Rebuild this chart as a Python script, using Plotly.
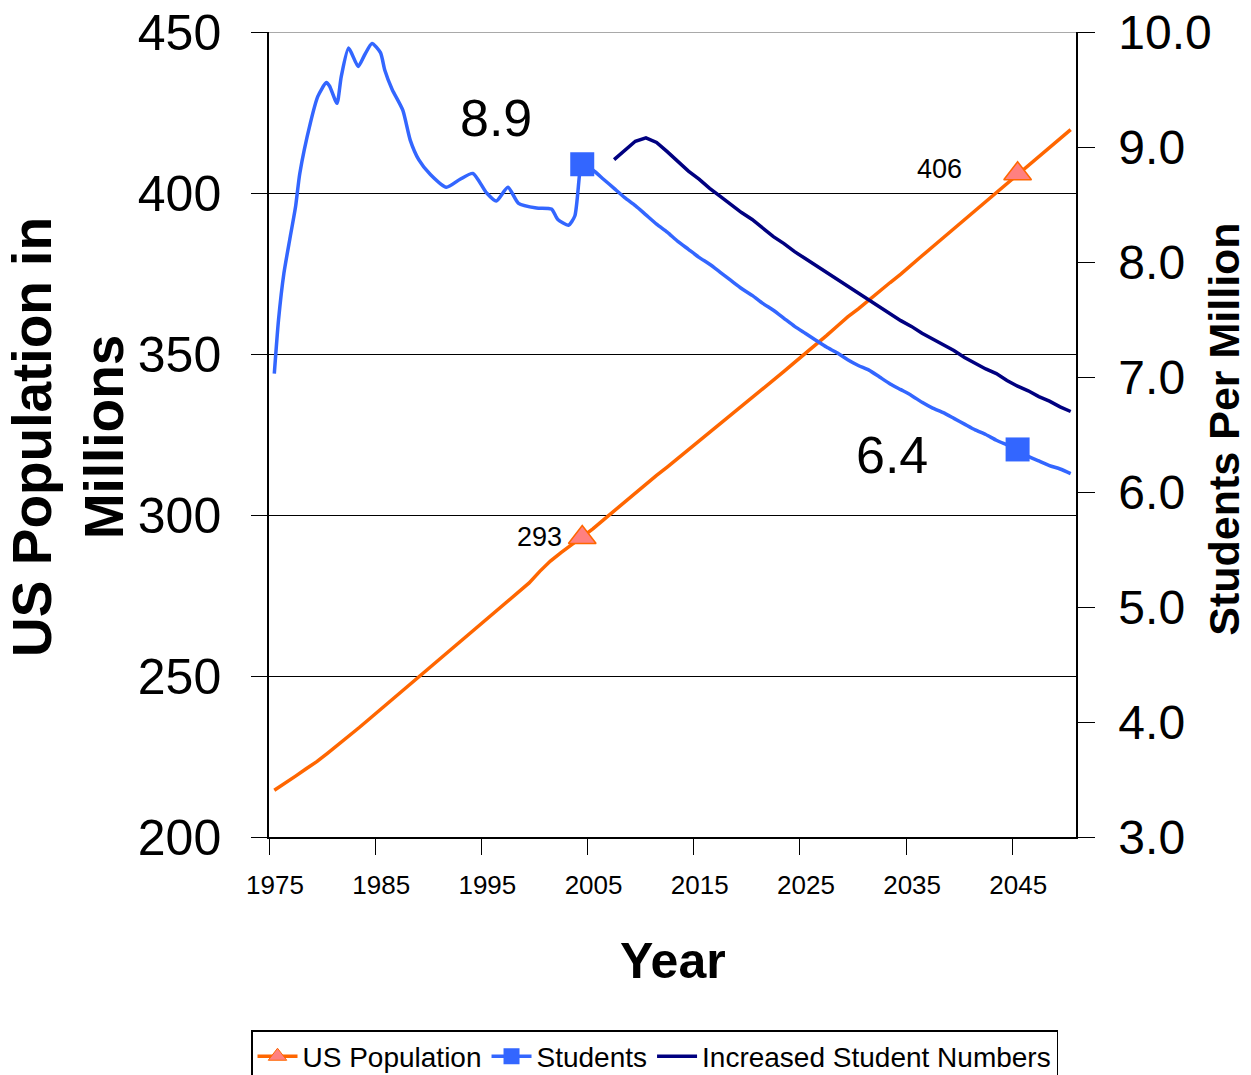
import plotly.graph_objects as go

# ---------------- data ----------------
pop_years = list(range(1975, 2051))
pop_values = [
    214.5, 216.6, 218.9, 221.2, 223.4, 226.0, 228.6, 231.3, 234.0, 236.8,
    239.6, 242.4, 245.3, 248.2, 251.0, 253.7, 256.4, 259.2, 262.2, 265.1,
    267.9, 270.7, 273.4, 276.2, 278.9, 282.5, 285.7, 288.3, 290.8, 293.0,
    295.7, 298.5, 301.3, 304.0, 307.0, 309.6, 312.3, 314.9, 317.6, 320.2,
    322.9, 325.5, 328.1, 330.8, 333.5, 336.2, 339.0, 341.8, 344.6, 347.4,
    350.1, 352.9, 355.7, 358.6, 361.5, 364.0, 366.8, 369.5, 372.2, 374.8,
    377.8, 380.5, 383.3, 386.1, 388.9, 391.7, 394.4, 397.2, 400.0, 402.9,
    405.8, 408.6, 411.4, 414.1, 416.9, 419.7,
]

stu_years = [
    1975.0, 1975.4, 1975.9, 1976.5, 1977.0, 1977.4, 1978.4, 1979.1, 1979.9,
    1980.2, 1980.9, 1981.3, 1982.0, 1982.9, 1983.5, 1984.2, 1985.0, 1985.4,
    1986.1, 1987.1, 1987.8, 1988.6, 1989.7, 1991.2, 1992.5, 1993.7, 1995.0,
    1995.9, 1997.0, 1998.0, 1999.7, 2001.1, 2001.7, 2002.7, 2003.3, 2003.8,
    2004, 2005, 2006, 2007, 2008, 2009, 2010, 2011, 2012, 2013, 2014, 2015,
    2016, 2017, 2018, 2019, 2020, 2021, 2022, 2023, 2024, 2025, 2026, 2027,
    2028, 2029, 2030, 2031, 2032, 2033, 2034, 2035, 2036, 2037, 2038, 2039,
    2040, 2041, 2042, 2043, 2044, 2045, 2046, 2047, 2048, 2049, 2050,
]
stu_values = [
    7.03, 7.50, 7.90, 8.22, 8.48, 8.77, 9.21, 9.44, 9.56,
    9.53, 9.38, 9.61, 9.86, 9.70, 9.80, 9.90, 9.82, 9.67,
    9.50, 9.32, 9.06, 8.89, 8.76, 8.65, 8.72, 8.77, 8.60,
    8.53, 8.65, 8.51, 8.47, 8.46, 8.37, 8.32, 8.40, 8.80,
    8.85, 8.80, 8.72, 8.64, 8.56, 8.49, 8.41, 8.33, 8.26, 8.18, 8.11, 8.04,
    7.98, 7.91, 7.84, 7.77, 7.71, 7.64, 7.58, 7.51, 7.44, 7.38, 7.32, 7.26,
    7.21, 7.15, 7.10, 7.06, 7.00, 6.94, 6.89, 6.84, 6.78, 6.73, 6.69, 6.64,
    6.59, 6.54, 6.50, 6.45, 6.41, 6.37, 6.31, 6.27, 6.23, 6.20, 6.16,
]

inc_years = list(range(2007, 2051))
inc_values = [
    8.89, 8.97, 9.05, 9.08, 9.04, 8.96, 8.87, 8.79, 8.72, 8.64,
    8.57, 8.50, 8.43, 8.37, 8.29, 8.22, 8.16, 8.09, 8.03, 7.97,
    7.91, 7.85, 7.79, 7.73, 7.67, 7.61, 7.55, 7.49, 7.44, 7.38,
    7.33, 7.28, 7.23, 7.17, 7.12, 7.07, 7.03, 6.97, 6.92, 6.88,
    6.83, 6.79, 6.74, 6.70,
]

marker_years = [2004, 2045]
pop_marker_values = [293, 406]
pop_marker_labels = ["293", "406"]
stu_marker_values = [8.85, 6.37]
stu_marker_labels = ["8.9", "6.4"]

x_tick_labels = ["1975", "1985", "1995", "2005", "2015", "2025", "2035", "2045"]
left_ticks = [200, 250, 300, 350, 400, 450]
right_ticks = [3.0, 4.0, 5.0, 6.0, 7.0, 8.0, 9.0, 10.0]

ORANGE = "#FF6600"
PINK = "#FF8080"
BLUE = "#3366FF"
NAVY = "#000080"
FONT = "Liberation Sans, Arial, sans-serif"

fig = go.Figure()

fig.add_trace(go.Scatter(x=pop_years, y=pop_values, mode="lines",
                         line=dict(color=ORANGE, width=3.5), showlegend=False,
                         yaxis="y"))
fig.add_trace(go.Scatter(x=stu_years, y=stu_values, mode="lines",
                         line=dict(color=BLUE, width=3.5, shape="spline", smoothing=0.6),
                         showlegend=False, yaxis="y2"))
fig.add_trace(go.Scatter(x=inc_years, y=inc_values, mode="lines",
                         line=dict(color=NAVY, width=3.5), showlegend=False,
                         yaxis="y2"))
fig.add_trace(go.Scatter(x=marker_years, y=pop_marker_values, mode="markers",
                         marker=dict(symbol="triangle-up", size=24, color=PINK,
                                     line=dict(color=ORANGE, width=1.5)),
                         showlegend=False, yaxis="y"))
fig.add_trace(go.Scatter(x=marker_years, y=stu_marker_values, mode="markers",
                         marker=dict(symbol="square", size=24, color=BLUE),
                         showlegend=False, yaxis="y2"))

# legend entries
fig.add_trace(go.Scatter(x=[None], y=[None], mode="lines+markers", name="US Population",
                         line=dict(color=ORANGE, width=3.5),
                         marker=dict(symbol="triangle-up", size=16, color=PINK,
                                     line=dict(color=ORANGE, width=1))))
fig.add_trace(go.Scatter(x=[None], y=[None], mode="lines+markers", name="Students",
                         line=dict(color=BLUE, width=3.5),
                         marker=dict(symbol="square", size=16, color=BLUE)))
fig.add_trace(go.Scatter(x=[None], y=[None], mode="lines", name="Increased Student Numbers",
                         line=dict(color=NAVY, width=3.5)))

# data labels
for yr, v, t in zip(marker_years, pop_marker_values, pop_marker_labels):
    dx, dy = (-43, 1) if yr == 2004 else (-78, 5)
    fig.add_annotation(x=yr, y=v, yref="y", text=t, showarrow=False,
                       xshift=dx, yshift=dy,
                       font=dict(family=FONT, size=27, color="black"))
for yr, v, t in zip(marker_years, stu_marker_values, stu_marker_labels):
    dx, dy = (-86, 46) if yr == 2004 else (-126, -6)
    fig.add_annotation(x=yr, y=v, yref="y2", text=t, showarrow=False,
                       xshift=dx, yshift=dy,
                       font=dict(family=FONT, size=52, color="black"))

# axis titles
fig.add_annotation(xref="paper", yref="paper", x=-0.249, y=0.497,
                   text="<b>US Population in<br>Millions</b>", textangle=-90,
                   showarrow=False, xanchor="center", yanchor="middle",
                   font=dict(family=FONT, size=55, color="black"))
fig.add_annotation(xref="paper", yref="paper", x=1.1834, y=0.506,
                   text="<b>Students Per Million</b>", textangle=-90,
                   showarrow=False, xanchor="center", yanchor="middle",
                   font=dict(family=FONT, size=43, color="black"))
fig.add_annotation(xref="paper", yref="paper", x=0.5, y=-0.154,
                   text="<b>Year</b>", showarrow=False,
                   xanchor="center", yanchor="middle",
                   font=dict(family=FONT, size=50, color="black"))

# top gridline at 450
fig.add_shape(type="line", xref="paper", yref="y", x0=0, x1=1, y0=450, y1=450,
              line=dict(color="#555555", width=1))

tick_positions = [int(t) - 0.5 for t in x_tick_labels]

fig.update_layout(
    width=1251, height=1075,
    margin=dict(l=269, r=175, t=32, b=238, autoexpand=False),
    paper_bgcolor="white", plot_bgcolor="white",
    showlegend=True,
    legend=dict(orientation="h", x=-0.0223, xanchor="left", y=-0.2398, yanchor="top",
                bordercolor="black", borderwidth=1.5,
                font=dict(family=FONT, size=28, color="black"),
                itemwidth=40, tracegroupgap=0),
    xaxis=dict(range=[1974.5, 2050.5], tickmode="array", tickvals=tick_positions,
               ticktext=x_tick_labels, ticks="outside", ticklen=16, tickcolor="black",
               tickwidth=1, showline=True, linecolor="black", linewidth=1.5,
               showgrid=False, zeroline=False, ticklabelshift=6, ticklabelstandoff=8,
               automargin=False, ticklabeloverflow="allow",
               tickfont=dict(family=FONT, size=26, color="black")),
    yaxis=dict(range=[200, 450], tickvals=left_ticks, ticks="outside", ticklen=16,
               tickcolor="black", showline=True, linecolor="black", linewidth=1.5,
               showgrid=True, gridcolor="black", gridwidth=1, zeroline=False,
               ticklabelstandoff=20, automargin=False, ticklabeloverflow="allow",
               tickfont=dict(family=FONT, size=50, color="black")),
    yaxis2=dict(range=[3.0, 10.0], tickvals=right_ticks, tickformat=".1f",
                overlaying="y", side="right", anchor="x", ticks="outside", ticklen=17,
                tickcolor="black", showline=True, linecolor="black", linewidth=1.5,
                showgrid=False, zeroline=False, ticklabelstandoff=14, automargin=False,
                ticklabeloverflow="allow",
                tickfont=dict(family=FONT, size=48, color="black")),
    yaxis3=dict(range=[3.0, 10.0], tickvals=right_ticks, overlaying="y", side="right",
                anchor="x", ticks="inside", ticklen=15, tickcolor="black",
                showticklabels=False, showline=False, showgrid=False, zeroline=False,
                automargin=False),
)

# remove the default 8px page margin so the figure fills the window exactly
fig.write_html("out.html",
               config={"displayModeBar": False},
               post_script="document.body.style.margin='0';")
